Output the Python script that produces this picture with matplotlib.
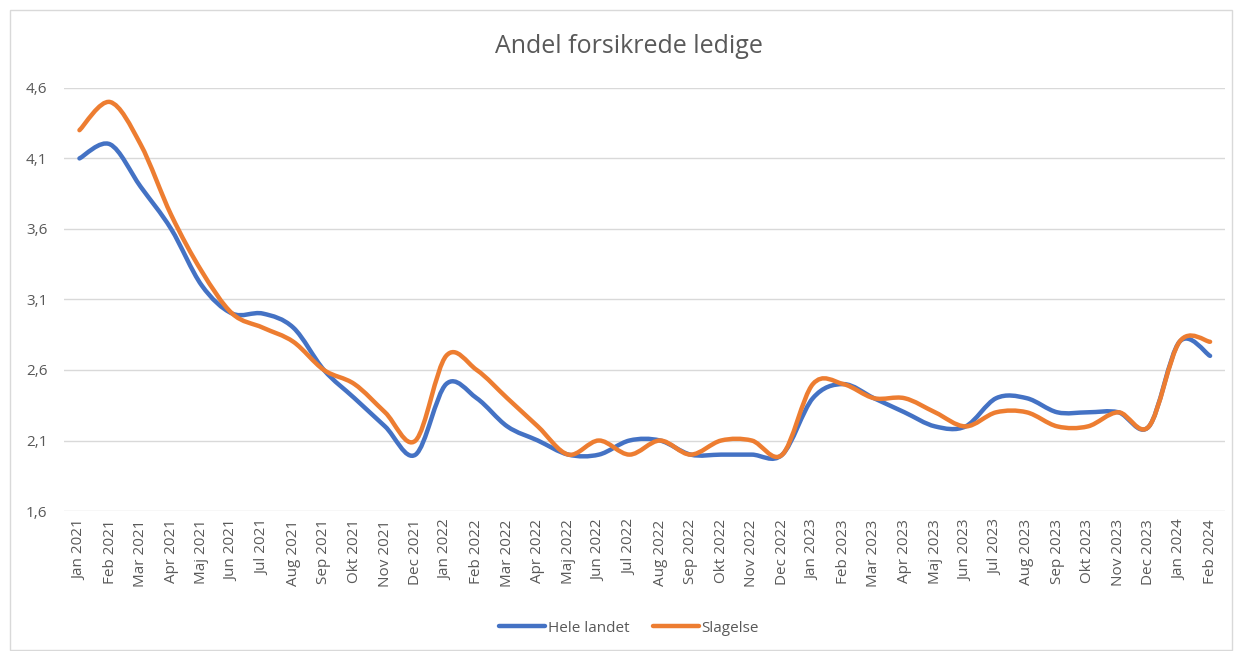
import matplotlib.pyplot as plt
import numpy as np
from matplotlib.path import Path
from matplotlib.patches import PathPatch, Rectangle
from matplotlib.lines import Line2D
from matplotlib.ticker import FuncFormatter

plt.rcParams['font.family'] = ['Open Sans', 'DejaVu Sans']

months = ['Jan', 'Feb', 'Mar', 'Apr', 'Maj', 'Jun', 'Jul', 'Aug', 'Sep', 'Okt', 'Nov', 'Dec']
labels = [f'{m} {y}' for y in (2021, 2022, 2023) for m in months] + ['Jan 2024', 'Feb 2024']

hele_landet = [4.1, 4.2, 3.9, 3.6, 3.2, 3.0, 3.0, 2.9, 2.6, 2.4, 2.2, 2.0,
               2.5, 2.4, 2.2, 2.1, 2.0, 2.0, 2.1, 2.1, 2.0, 2.0, 2.0, 2.0,
               2.4, 2.5, 2.4, 2.3, 2.2, 2.2, 2.4, 2.4, 2.3, 2.3, 2.3, 2.2,
               2.8, 2.7]
slagelse = [4.3, 4.5, 4.2, 3.7, 3.3, 3.0, 2.9, 2.8, 2.6, 2.5, 2.3, 2.1,
            2.7, 2.6, 2.4, 2.2, 2.0, 2.1, 2.0, 2.1, 2.0, 2.1, 2.1, 2.0,
            2.5, 2.5, 2.4, 2.4, 2.3, 2.2, 2.3, 2.3, 2.2, 2.2, 2.3, 2.2,
            2.8, 2.8]

BLUE = '#4472C4'
ORANGE = '#ED7D31'
GRAY = '#595959'


def smooth_path(x, y):
    # Excel-like smoothed line: cubic Bezier segments (Catmull-Rom control points)
    pts = np.column_stack([x, y]).astype(float)
    n = len(pts)
    verts = [pts[0]]
    codes = [Path.MOVETO]
    for i in range(n - 1):
        p0 = pts[max(i - 1, 0)]
        p1 = pts[i]
        p2 = pts[i + 1]
        p3 = pts[min(i + 2, n - 1)]
        c1 = p1 + (p2 - p0) / 6
        c2 = p2 - (p3 - p1) / 6
        verts += [c1, c2, p2]
        codes += [Path.CURVE4] * 3
    return Path(verts, codes)


fig = plt.figure(figsize=(12.34, 6.51), dpi=100)
fig.patches.append(Rectangle((0.008, 0.002), 0.99, 0.983, transform=fig.transFigure,
                             fill=False, edgecolor='#D9D9D9', linewidth=1))
ax = fig.add_axes([0.052, 0.215, 0.941, 0.65])

x = np.arange(len(labels))
for vals, col in [(hele_landet, BLUE), (slagelse, ORANGE)]:
    ax.add_patch(PathPatch(smooth_path(x, vals), facecolor='none', edgecolor=col,
                           linewidth=3.2, capstyle='round', joinstyle='round', zorder=3))

ax.set_xlim(-0.5, len(labels) - 0.5)
ax.set_ylim(1.6, 4.6)
ax.set_yticks([1.6, 2.1, 2.6, 3.1, 3.6, 4.1, 4.6])
ax.yaxis.set_major_formatter(FuncFormatter(lambda v, p: f'{v:.1f}'.replace('.', ',')))
ax.set_xticks(x)
ax.set_xticklabels(labels, rotation=90)
ax.tick_params(axis='both', length=0, colors=GRAY, labelsize=11)
ax.tick_params(axis='y', pad=12)
ax.tick_params(axis='x', pad=6)
ax.grid(axis='y', color='#D9D9D9', linewidth=1)
ax.set_axisbelow(True)
for s in ax.spines.values():
    s.set_visible(False)

fig.text(0.51, 0.928, 'Andel forsikrede ledige', fontsize=18, color=GRAY,
         ha='center', va='center')

handles = [Line2D([], [], color=BLUE, lw=3.2, solid_capstyle='round'),
           Line2D([], [], color=ORANGE, lw=3.2, solid_capstyle='round')]
fig.legend(handles, ['Hele landet', 'Slagelse'], loc='center', bbox_to_anchor=(0.51, 0.035),
           ncol=2, frameon=False, fontsize=11, labelcolor=GRAY,
           handlelength=3, handletextpad=0.2, columnspacing=1.5)

plt.savefig('out.png', dpi=100)
